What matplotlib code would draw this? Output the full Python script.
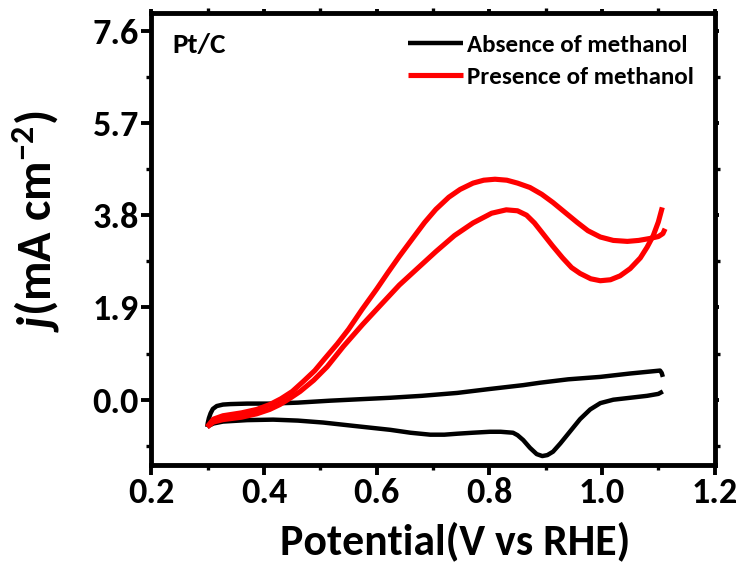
import matplotlib
matplotlib.use("Agg")
from matplotlib import pyplot as plt
from matplotlib import font_manager
from matplotlib.ticker import MultipleLocator, FormatStrFormatter

# absence of methanol: anodic scan, then cathodic scan
blk_fwd_x = [0.299, 0.300, 0.302, 0.305, 0.309, 0.316, 0.327, 0.34, 0.37, 0.41, 0.46, 0.517, 0.57, 0.624, 0.68, 0.743, 0.80, 0.86, 0.89, 0.94, 0.997, 1.05, 1.103, 1.106, 1.108]
blk_fwd_y = [-0.56, -0.48, -0.38, -0.28, -0.19, -0.13, -0.10, -0.09, -0.08, -0.08, -0.06, -0.02, 0.01, 0.04, 0.08, 0.14, 0.22, 0.30, 0.35, 0.42, 0.47, 0.54, 0.60, 0.55, 0.47]
blk_rev_x = [1.108, 1.10, 1.08, 1.05, 1.02, 0.997, 0.979, 0.961, 0.94, 0.926, 0.913, 0.903, 0.894, 0.884, 0.872, 0.86, 0.85, 0.842, 0.82, 0.801, 0.77, 0.743, 0.72, 0.695, 0.66, 0.624, 0.56, 0.505, 0.46, 0.416, 0.37, 0.327, 0.31, 0.303, 0.299]
blk_rev_y = [0.17, 0.12, 0.08, 0.04, 0.00, -0.07, -0.20, -0.40, -0.70, -0.90, -1.07, -1.14, -1.16, -1.12, -0.99, -0.83, -0.73, -0.68, -0.66, -0.66, -0.68, -0.70, -0.72, -0.72, -0.68, -0.62, -0.54, -0.47, -0.43, -0.41, -0.42, -0.45, -0.49, -0.53, -0.56]

# presence of methanol
red_fwd_x = [0.299, 0.31, 0.327, 0.36, 0.387, 0.41, 0.428, 0.446, 0.464, 0.488, 0.512, 0.541, 0.575, 0.607, 0.64, 0.672, 0.705, 0.738, 0.771, 0.804, 0.83, 0.85, 0.866, 0.88, 0.895, 0.912, 0.93, 0.946, 0.961, 0.98, 0.997, 1.015, 1.032, 1.05, 1.068, 1.08, 1.091, 1.10, 1.107]
red_fwd_y = [-0.56, -0.46, -0.41, -0.36, -0.29, -0.20, -0.10, 0.03, 0.17, 0.40, 0.68, 1.10, 1.55, 1.95, 2.36, 2.70, 3.05, 3.38, 3.64, 3.84, 3.91, 3.89, 3.80, 3.64, 3.42, 3.17, 2.92, 2.72, 2.60, 2.49, 2.45, 2.47, 2.55, 2.70, 2.92, 3.14, 3.38, 3.66, 3.96]
red_rev_x = [1.112, 1.108, 1.10, 1.085, 1.065, 1.045, 1.02, 0.997, 0.975, 0.956, 0.935, 0.913, 0.893, 0.872, 0.85, 0.831, 0.81, 0.79, 0.771, 0.748, 0.728, 0.705, 0.685, 0.665, 0.64, 0.62, 0.60, 0.574, 0.55, 0.53, 0.508, 0.49, 0.47, 0.45, 0.43, 0.41, 0.387, 0.36, 0.327, 0.31, 0.299]
red_rev_y = [3.52, 3.42, 3.36, 3.32, 3.28, 3.26, 3.28, 3.35, 3.48, 3.65, 3.85, 4.06, 4.23, 4.37, 4.46, 4.52, 4.54, 4.52, 4.46, 4.33, 4.17, 3.92, 3.65, 3.34, 2.95, 2.62, 2.28, 1.86, 1.45, 1.15, 0.85, 0.60, 0.38, 0.17, 0.02, -0.10, -0.20, -0.27, -0.33, -0.40, -0.56]

xticks = [0.2, 0.4, 0.6, 0.8, 1.0, 1.2]
yticks = [0.0, 1.9, 3.8, 5.7, 7.6]

# pick a narrow bold face if one is around
names = {f.name for f in font_manager.fontManager.ttflist}
cands = ['Carlito', 'Liberation Sans Narrow', 'DejaVu Sans Condensed', 'Roboto Condensed',
         'Open Sans Condensed', 'Noto Sans Condensed', 'Lato']
fam = next((c for c in cands if c in names), 'DejaVu Sans')
W = 'heavy'
plt.rcParams['font.family'] = [fam, 'DejaVu Sans']
plt.rcParams['font.weight'] = W
plt.rcParams['mathtext.fontset'] = 'custom'
plt.rcParams['mathtext.rm'] = fam + ':heavy'
plt.rcParams['mathtext.it'] = fam + ':heavy:italic'
plt.rcParams['mathtext.bf'] = fam + ':heavy'

fig = plt.figure(figsize=(7.46, 5.71), dpi=100)
ax = fig.add_axes([0.203, 0.186, 0.755, 0.791])

lkw = dict(solid_joinstyle='round', solid_capstyle='butt')
ax.plot(blk_fwd_x, blk_fwd_y, color='black', lw=3.2, label='Absence of methanol', **lkw)
ax.plot(blk_rev_x, blk_rev_y, color='black', lw=3.2, **lkw)
ax.plot(red_fwd_x, red_fwd_y, color='#ff0000', lw=3.7, label='Presence of methanol', **lkw)
ax.plot(red_rev_x, red_rev_y, color='#ff0000', lw=3.7, **lkw)

ax.set_xlim(0.2, 1.2)
ax.set_ylim(-1.34, 7.96)
ax.set_xticks(xticks)
ax.set_yticks(yticks)
ax.xaxis.set_minor_locator(MultipleLocator(0.1))
ax.yaxis.set_minor_locator(MultipleLocator(0.95))
ax.yaxis.set_major_formatter(FormatStrFormatter('%.1f'))
ax.xaxis.set_major_formatter(FormatStrFormatter('%.1f'))

for s in ax.spines.values():
    s.set_linewidth(3.5)
    s.set_color('black')
ax.tick_params(which='major', direction='out', length=7, width=2.8, labelsize=26, pad=2)
ax.tick_params(which='minor', direction='out', length=3.5, width=2.4)
ax.tick_params(which='both', top=True, right=True)
for t in ax.xaxis.get_ticklines(minor=False)[1::2] + ax.yaxis.get_ticklines(minor=False)[1::2]:
    t.set_markersize(3)
for lab in ax.get_xticklabels() + ax.get_yticklabels():
    lab.set_fontweight(W)

ax.set_xlabel('Potential(V vs RHE)', fontsize=31.5, fontweight=W)
ax.xaxis.set_label_coords(0.539, -0.125)
ax.set_ylabel(r'$\mathit{j}$(mA cm$^{-2}$)', fontsize=35, fontweight=W)
ax.yaxis.set_label_coords(-0.158, 0.54)

ax.text(0.037, 0.955, 'Pt/C', transform=ax.transAxes, fontsize=21, fontweight=W, va='top')
leg = ax.legend(loc='upper right', frameon=False, handlelength=2.2,
                handletextpad=0.15, borderaxespad=0.45, labelspacing=0.42,
                prop={'size': 18, 'weight': W})

fig.savefig('out.png', dpi=100)
